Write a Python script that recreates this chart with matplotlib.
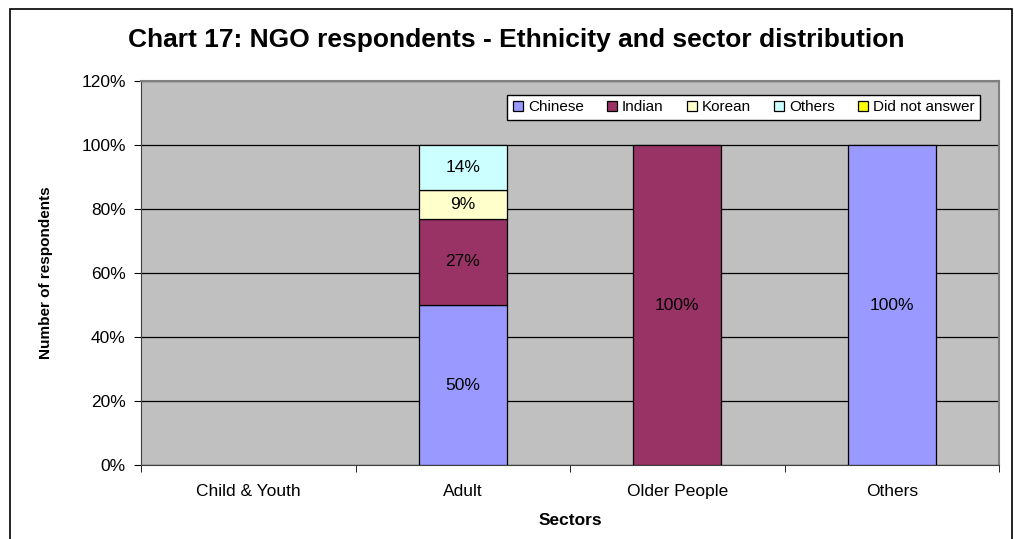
import matplotlib
matplotlib.use("Agg")
import matplotlib.pyplot as plt
from matplotlib.patches import Rectangle, Patch
import numpy as np

plt.rcParams['font.family'] = ['Liberation Sans', 'DejaVu Sans']

sectors = ["Child & Youth", "Adult", "Older People", "Others"]
series_names = ["Chinese", "Indian", "Korean", "Others", "Did not answer"]
chinese = [0, 50, 0, 100]
indian = [0, 27, 100, 0]
korean = [0, 9, 0, 0]
others = [0, 14, 0, 0]
did_not_answer = [0, 0, 0, 0]
series_values = [chinese, indian, korean, others, did_not_answer]
colors = ["#9999FF", "#993366", "#FFFFCC", "#CCFFFF", "#FFFF00"]
yticks = [0, 20, 40, 60, 80, 100, 120]

fig = plt.figure(figsize=(10.14, 5.39), dpi=100)
fig.patch.set_facecolor("white")
# outer frame
fig.add_artist(Rectangle((10/1014, -0.05), (1012-10)/1014, 1 - 9/539 + 0.05,
                         transform=fig.transFigure, fill=False, edgecolor="black", lw=1.2))

ax = fig.add_axes([141/1014, 1 - 465/539, (999-141)/1014, (465-81)/539])
ax.set_facecolor("#C0C0C0")
x = np.arange(len(sectors))
bottom = np.zeros(len(sectors))
handles = []
for name, vals, col in zip(series_names, series_values, colors):
    v = np.array(vals, dtype=float)
    nz = v > 0
    if nz.any():
        ax.bar(x[nz], v[nz], width=0.41, bottom=bottom[nz], color=col,
               edgecolor="black", lw=0.9, zorder=3)
    for xi, vi, bi in zip(x, v, bottom):
        if vi > 0:
            ax.text(xi, bi + vi/2, f"{vi:.0f}%", ha="center", va="center",
                    fontsize=12.5, color="black", zorder=4)
    bottom += v
    handles.append(Patch(facecolor=col, edgecolor="black", lw=0.9, label=name))

ax.set_xlim(-0.5, len(sectors) - 0.5)
ax.set_ylim(0, 120)
ax.set_yticks(yticks)
ax.set_yticklabels([f"{t}%" for t in yticks], fontsize=12.5)
ax.set_xticks(x)
ax.set_xticklabels(sectors, fontsize=12.5)
ax.set_xticks(np.arange(len(sectors) + 1) - 0.5, minor=True)
ax.tick_params(axis="x", which="major", length=0, pad=14)
ax.tick_params(axis="x", which="minor", length=5, color="black")
ax.tick_params(axis="y", length=5, color="black", pad=6)
ax.yaxis.grid(True, color="black", lw=0.9, zorder=0)
ax.set_axisbelow(True)
for s in ["left", "bottom"]:
    ax.spines[s].set_color("#404040")
for s in ["right", "top"]:
    ax.spines[s].set_color("#808080")
    ax.spines[s].set_linewidth(1.5)

ax.set_xlabel("Sectors", fontsize=12.5, fontweight="bold", labelpad=10)
ax.set_ylabel("Number of respondents", fontsize=11, fontweight="bold")
ax.yaxis.set_label_coords(-0.103, 0.5)
fig.text(0.509, 1 - 40/539, "Chart 17: NGO respondents - Ethnicity and sector distribution",
         ha="center", va="center", fontsize=19, fontweight="bold")

leg = ax.legend(handles=handles, loc="upper right", bbox_to_anchor=(0.978, 0.9635), ncol=5,
                fontsize=11, frameon=True, fancybox=False, edgecolor="black", framealpha=1,
                handlelength=0.65, handleheight=0.65, handletextpad=0.35, columnspacing=1.5,
                borderpad=0.35, borderaxespad=0)
leg.get_frame().set_linewidth(1.0)

fig.savefig("out.png", dpi=100)
